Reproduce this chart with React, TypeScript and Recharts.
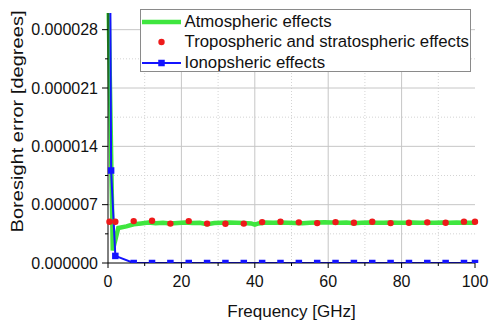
import React from "react";
import { ComposedChart, Line, XAxis, YAxis, ReferenceLine } from "recharts";

// ---- data ----
const atmosFreq = [0, 1.3, 2.8, 5, 7, 9, 11, 13, 15, 17, 19, 21, 23, 25, 27, 29, 31, 33, 35, 37, 39, 40, 41, 43, 45, 47, 49, 51, 53, 55, 57, 59, 61, 63, 65, 67, 69, 71, 73, 75, 77, 79, 81, 83, 85, 87, 89, 91, 93, 95, 97, 100];
const atmosVal = [3.5e-5, 1.5e-6, 4.2e-6, 4.4e-6, 4.65e-6, 4.75e-6, 4.85e-6, 4.78e-6, 4.82e-6, 4.75e-6, 4.8e-6, 4.85e-6, 4.8e-6, 4.82e-6, 4.66e-6, 4.8e-6, 4.83e-6, 4.85e-6, 4.82e-6, 4.8e-6, 4.75e-6, 4.6e-6, 4.75e-6, 4.85e-6, 4.82e-6, 4.85e-6, 4.82e-6, 4.8e-6, 4.78e-6, 4.82e-6, 4.85e-6, 4.88e-6, 4.86e-6, 4.82e-6, 4.85e-6, 4.76e-6, 4.83e-6, 4.86e-6, 4.84e-6, 4.82e-6, 4.85e-6, 4.83e-6, 4.84e-6, 4.86e-6, 4.82e-6, 4.84e-6, 4.83e-6, 4.86e-6, 4.83e-6, 4.85e-6, 4.82e-6, 4.84e-6];

const tropoFreq = [0.4, 2, 7, 12, 17, 22, 27, 32, 37, 42, 47, 52, 57, 62, 67, 72, 77, 82, 87, 92, 97, 100];
const tropoVal = [4.95e-6, 4.95e-6, 5.03e-6, 5.07e-6, 4.73e-6, 5.03e-6, 4.73e-6, 4.71e-6, 4.73e-6, 4.91e-6, 4.95e-6, 4.88e-6, 4.79e-6, 4.91e-6, 4.83e-6, 4.95e-6, 4.79e-6, 4.83e-6, 4.88e-6, 4.83e-6, 4.96e-6, 4.95e-6];

const ionoFreq = [0, 0.85, 2, 7, 12, 17, 22, 27, 32, 37, 42, 47, 52, 57, 62, 67, 72, 77, 82, 87, 92, 97, 100];
const ionoVal = [9.2e-5, 1.11e-5, 8.5e-7, 0, 0, 0, 0, 0, 0, 0, 0, 0, 0, 0, 0, 0, 0, 0, 0, 0, 0, 0, 0];

const xMajorTicks = [0, 20, 40, 60, 80, 100];
const xMinorTicks = [10, 30, 50, 70, 90];
const yMajorTicks = [0, 0.000007, 0.000014, 0.000021, 0.000028];
const yMinorTicks = [0.0000035, 0.0000105, 0.0000175, 0.0000245];

const seriesNames = ["Atmospheric effects", "Tropospheric and stratospheric effects", "Ionopsheric effects"];

const GREEN = "#3fe63f";
const RED = "#ee1a1a";
const BLUE = "#1414ff";
const FONT = "'Liberation Sans', Arial, sans-serif";

const toData = (f: number[], v: number[]) => f.map((x, i) => ({ f: x, v: v[i] }));
const atmosData = toData(atmosFreq, atmosVal);
const tropoData = toData(tropoFreq, tropoVal);
const ionoData = toData(ionoFreq, ionoVal);

const xAllTicks = [...xMajorTicks, ...xMinorTicks].sort((a, b) => a - b);
const yAllTicks = [...yMajorTicks, ...yMinorTicks].sort((a, b) => a - b);

const XTick = (props: any) => {
  const { x, y, payload } = props;
  const major = xMajorTicks.includes(payload.value);
  return (
    <g>
      <line x1={x} x2={x} y1={y} y2={y + (major ? 5 : 3)} stroke="#000" strokeWidth={1} />
      {major && (
        <text x={x} y={y + 23.5} textAnchor="middle" fontSize={16} fontFamily={FONT} fill="#111">
          {payload.value}
        </text>
      )}
    </g>
  );
};

const YTick = (props: any) => {
  const { x, y, payload } = props;
  const major = yMajorTicks.some((t) => Math.abs(t - payload.value) < 1e-12);
  return (
    <g>
      <line x1={x} x2={x - (major ? 6 : 3)} y1={y} y2={y} stroke="#000" strokeWidth={1} />
      {major && (
        <text x={x - 10} y={y} dy="0.36em" textAnchor="end" fontSize={16} fontFamily={FONT} fill="#111">
          {payload.value.toFixed(6)}
        </text>
      )}
    </g>
  );
};

const RedDot = (p: any) => <circle key={`r${p.index}`} cx={p.cx} cy={p.cy} r={3.2} fill={RED} />;
const BlueSquare = (p: any) => (
  <rect key={`b${p.index}`} x={p.cx - 3.25} y={p.cy - 3.25} width={6.5} height={6.5} fill={BLUE} />
);

const LegendBox = () => (
  <div
    style={{
      position: "absolute",
      left: 139.5,
      top: 9,
      width: 331,
      height: 63,
      border: "1px solid #8a8a8a",
      background: "#fff",
      boxSizing: "border-box",
      fontFamily: FONT,
      fontSize: 16.8,
      color: "#111",
    }}
  >
    {seriesNames.map((name, i) => (
      <div key={name} style={{ position: "absolute", left: 0, top: 1.5 + i * 20.5, height: 20, display: "flex", alignItems: "center", whiteSpace: "nowrap" }}>
        <svg width={42} height={20} style={{ display: "block" }}>
          {i === 0 && <line x1={1} x2={40} y1={10} y2={10} stroke={GREEN} strokeWidth={4.5} />}
          {i === 1 && <circle cx={20.5} cy={10} r={3.2} fill={RED} />}
          {i === 2 && (
            <g>
              <line x1={1} x2={40} y1={10} y2={10} stroke={BLUE} strokeWidth={2} />
              <rect x={17.25} y={6.75} width={6.5} height={6.5} fill={BLUE} />
            </g>
          )}
        </svg>
        <span style={{ marginLeft: 2 }}>{name}</span>
      </div>
    ))}
  </div>
);

export default function App() {
  return (
    <div style={{ position: "absolute", left: 0, top: 0, width: 489, height: 321, background: "#fff" }}>
      <ComposedChart width={489} height={321} margin={{ top: 13, right: 14, bottom: 0, left: 0 }}>
        <XAxis
          type="number"
          dataKey="f"
          domain={[0, 100]}
          ticks={xAllTicks}
          interval={0}
          height={58}
          tickSize={0}
          tickMargin={0}
          tickLine={false}
          tick={<XTick />}
          axisLine={{ stroke: "#000", strokeWidth: 1 }}
          label={{ value: "Frequency [GHz]", position: "insideBottom", offset: 4, fontSize: 17, fontFamily: FONT, fill: "#111" }}
        />
        <YAxis
          type="number"
          dataKey="v"
          domain={[0, 0.00003]}
          allowDataOverflow
          ticks={yAllTicks}
          interval={0}
          width={108}
          tickSize={0}
          tickMargin={0}
          tickLine={false}
          tick={<YTick />}
          axisLine={{ stroke: "#000", strokeWidth: 1 }}
          label={{
            content: () => (
              <text
                x={17}
                y={121.5}
                transform="rotate(-90 17 121.5)"
                textAnchor="middle"
                dy="0.36em"
                fontSize={16.5}
                fontFamily={FONT}
                fill="#111"
                textLength={222}
                lengthAdjust="spacingAndGlyphs"
              >
                Boresight error [degrees]
              </text>
            ),
          }}
        />
        {xMajorTicks.filter((t) => t > 0 && t < 100).map((t) => (
          <ReferenceLine key={`xM${t}`} x={t} stroke="#c6c6c6" strokeWidth={1} />
        ))}
        {xMinorTicks.map((t) => (
          <ReferenceLine key={`xm${t}`} x={t} stroke="#d4d4d4" strokeWidth={1} strokeDasharray="1 2" />
        ))}
        {yMajorTicks.filter((t) => t > 0).map((t) => (
          <ReferenceLine key={`yM${t}`} y={t} stroke="#c6c6c6" strokeWidth={1} />
        ))}
        {yMinorTicks.map((t) => (
          <ReferenceLine key={`ym${t}`} y={t} stroke="#d4d4d4" strokeWidth={1} strokeDasharray="1 2" />
        ))}
        <Line
          data={tropoData}
          dataKey="v"
          stroke="none"
          strokeWidth={0}
          dot={RedDot}
          activeDot={false}
          isAnimationActive={false}
          legendType="none"
        />
        <Line
          data={atmosData}
          dataKey="v"
          stroke={GREEN}
          strokeWidth={4.5}
          dot={false}
          activeDot={false}
          isAnimationActive={false}
        />
        <Line
          data={ionoData}
          dataKey="v"
          stroke={BLUE}
          strokeWidth={2}
          dot={BlueSquare}
          activeDot={false}
          isAnimationActive={false}
        />
      </ComposedChart>
      <LegendBox />
    </div>
  );
}
